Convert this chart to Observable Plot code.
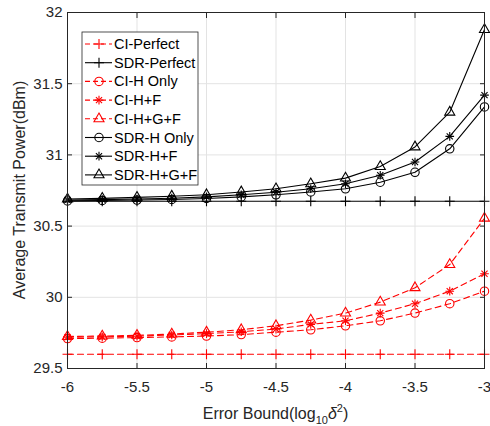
<!DOCTYPE html>
<html>
<head>
<meta charset="utf-8">
<script src="https://cdn.jsdelivr.net/npm/d3@7"></script>
<script src="https://cdn.jsdelivr.net/npm/@observablehq/plot@0.6"></script>
<style>
  html, body { margin: 0; padding: 0; background: #fff; }
  #chart svg { font-family: "Liberation Sans", Arial, sans-serif; }
</style>
</head>
<body>
<div id="chart"></div>
<script>
// ---- data ----
const errorBound = [-6, -5.75, -5.5, -5.25, -5, -4.75, -4.5, -4.25, -4, -3.75, -3.5, -3.25, -3];
const ciPerfect  = [29.6, 29.6, 29.6, 29.6, 29.6, 29.6, 29.6, 29.6, 29.6, 29.6, 29.6, 29.6, 29.6];
const sdrPerfect = [30.675, 30.675, 30.675, 30.675, 30.675, 30.675, 30.675, 30.675, 30.675, 30.675, 30.675, 30.675, 30.675];
const ciHOnly    = [29.71, 29.713, 29.717, 29.722, 29.728, 29.738, 29.755, 29.772, 29.80, 29.835, 29.889, 29.955, 30.043];
const ciHF       = [29.72, 29.722, 29.727, 29.735, 29.745, 29.758, 29.777, 29.81, 29.835, 29.889, 29.955, 30.043, 30.165];
const ciHGF      = [29.725, 29.728, 29.733, 29.742, 29.755, 29.772, 29.80, 29.84, 29.889, 29.966, 30.067, 30.23, 30.555];
const sdrHOnly   = [30.677, 30.68, 30.683, 30.687, 30.694, 30.705, 30.72, 30.74, 30.762, 30.808, 30.878, 31.043, 31.337];
const sdrHF      = [30.683, 30.686, 30.69, 30.696, 30.705, 30.72, 30.738, 30.762, 30.797, 30.857, 30.95, 31.13, 31.42];
const sdrHGF     = [30.69, 30.695, 30.702, 30.71, 30.72, 30.74, 30.762, 30.797, 30.837, 30.918, 31.056, 31.30, 31.88];

const seriesNames = ["CI-Perfect", "SDR-Perfect", "CI-H Only", "CI-H+F", "CI-H+G+F", "SDR-H Only", "SDR-H+F", "SDR-H+G+F"];
const xTicks = [-6, -5.5, -5, -4.5, -4, -3.5, -3];
const yTicks = [29.5, 30, 30.5, 31, 31.5, 32];
const xLabel = "Error Bound(log";
const yLabel = "Average Transmit Power(dBm)";

// ---- styles ----
const RED = "#ff0000", BLACK = "#000000", AXIS = "#262626";
const seriesDefs = [
  {name: seriesNames[0], values: ciPerfect,  color: RED,   dash: "6,4", marker: "plus"},
  {name: seriesNames[1], values: sdrPerfect, color: BLACK, dash: null,  marker: "plus"},
  {name: seriesNames[2], values: ciHOnly,    color: RED,   dash: "6,4", marker: "circle"},
  {name: seriesNames[3], values: ciHF,       color: RED,   dash: "6,4", marker: "asterisk"},
  {name: seriesNames[4], values: ciHGF,      color: RED,   dash: "6,4", marker: "triangle"},
  {name: seriesNames[5], values: sdrHOnly,   color: BLACK, dash: null,  marker: "circle"},
  {name: seriesNames[6], values: sdrHF,      color: BLACK, dash: null,  marker: "asterisk"},
  {name: seriesNames[7], values: sdrHGF,     color: BLACK, dash: null,  marker: "triangle"}
];
// marker -> list of [plot symbol, r]
const markerParts = {
  plus: [["plus", 3.3]],
  circle: [["circle", 4.2]],
  asterisk: [["plus", 2.9], ["times", 2.9]],
  triangle: [["triangle2", 4.8]]
};

const rows = s => errorBound.map((x, i) => ({x, y: s.values[i], series: s.name}));

const marks = [
  Plot.gridX(xTicks, {stroke: "#e3e3e3", strokeOpacity: 1}),
  Plot.gridY(yTicks, {stroke: "#e3e3e3", strokeOpacity: 1}),
];
for (const s of seriesDefs) {
  const data = rows(s);
  marks.push(Plot.line(data, {x: "x", y: "y", stroke: s.color, strokeWidth: 1.1,
    strokeDasharray: s.dash ?? undefined}));
  for (const [sym, r] of markerParts[s.marker]) {
    marks.push(Plot.dot(data, {x: "x", y: "y", symbol: () => sym, r, stroke: s.color, fill: "none", strokeWidth: 1.1}));
  }
}
marks.push(
  Plot.frame({stroke: AXIS, strokeWidth: 1}),
  Plot.axisX(xTicks, {anchor: "bottom", tickSize: -5, tickPadding: 18, tickFormat: d => String(d), fontSize: 15, label: null, color: AXIS}),
  Plot.axisX(xTicks, {anchor: "top", tickSize: -5, tickFormat: () => "", label: null, color: AXIS}),
  Plot.axisY(yTicks, {anchor: "left", tickSize: -5, tickPadding: 10, tickFormat: d => String(d), fontSize: 15, label: null, color: AXIS}),
  Plot.axisY(yTicks, {anchor: "right", tickSize: -5, tickFormat: () => "", label: null, color: AXIS})
);

const chart = Plot.plot({
  width: 490, height: 426,
  marginLeft: 67, marginRight: 6, marginTop: 12, marginBottom: 58,
  x: {domain: [-6, -3]},
  y: {domain: [29.5, 32]},
  style: {fontFamily: "'Liberation Sans', Arial, sans-serif", color: AXIS, background: "#fff"},
  marks
});
document.getElementById("chart").appendChild(chart);

// ---- axis titles and legend ----
const svg = d3.select(chart);
const xs = chart.scale("x"), ys = chart.scale("y");
const cx = (xs.range[0] + xs.range[1]) / 2;
const cy = (ys.range[0] + ys.range[1]) / 2;

const xt = svg.append("text")
  .attr("x", cx).attr("y", 419).attr("text-anchor", "middle")
  .attr("fill", AXIS).attr("font-size", 16);
xt.append("tspan").text(xLabel);
xt.append("tspan").attr("font-size", 11).attr("dy", 5).text("10");
xt.append("tspan").attr("font-style", "italic").attr("dy", -5).text("δ");
xt.append("tspan").attr("font-size", 11).attr("dy", -7).text("2");
xt.append("tspan").attr("dy", 7).text(")");

svg.append("text")
  .attr("transform", `translate(19,${cy}) rotate(-90)`)
  .attr("text-anchor", "middle").attr("dominant-baseline", "central")
  .attr("fill", AXIS).attr("font-size", 16).text(yLabel);

// legend box
const lg = svg.append("g").attr("transform", "translate(82,32)");
lg.append("rect").attr("width", 116).attr("height", 153)
  .attr("fill", "#fff").attr("stroke", AXIS).attr("stroke-width", 0.8);
const symMap = {plus: d3.symbolPlus, times: d3.symbolTimes, circle: d3.symbolCircle, triangle2: d3.symbolTriangle2};
seriesDefs.forEach((s, i) => {
  const y = 12 + i * 18.7;
  const g = lg.append("g").attr("transform", `translate(0,${y})`);
  g.append("line").attr("x1", 3).attr("x2", 30).attr("y1", 0).attr("y2", 0)
    .attr("stroke", s.color).attr("stroke-width", 1.1)
    .attr("stroke-dasharray", s.dash ? "5,3" : null);
  for (const [sym, r] of markerParts[s.marker]) {
    g.append("path").attr("transform", "translate(17,0)")
      .attr("d", d3.symbol(symMap[sym], Math.PI * r * r)())
      .attr("fill", "none").attr("stroke", s.color).attr("stroke-width", 1.1);
  }
  g.append("text").attr("x", 32).attr("y", 0).attr("dominant-baseline", "central")
    .attr("text-anchor", "start")
    .attr("font-size", 14.5).attr("fill", "#000").text(s.name);
});
</script>
</body>
</html>
